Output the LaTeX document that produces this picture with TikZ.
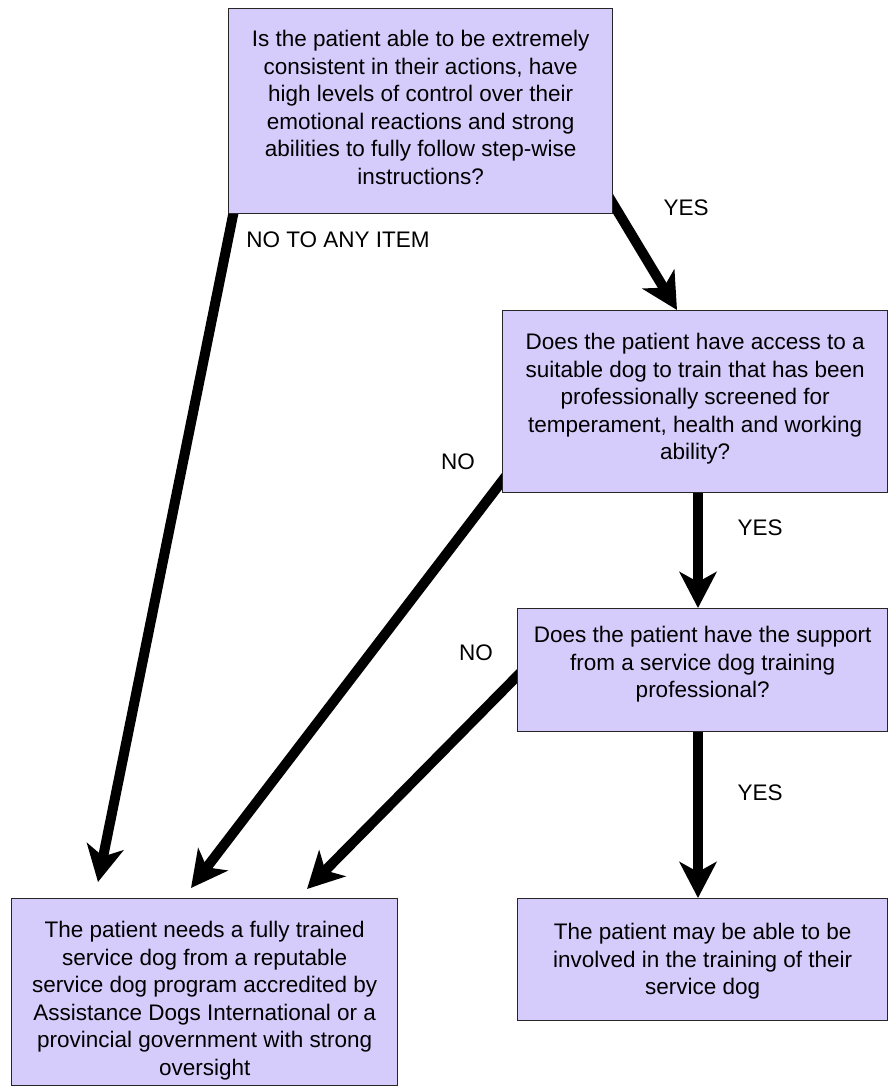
\documentclass[tikz,border=0pt]{standalone}
\usepackage{fontspec}
\setmainfont{Liberation Sans}
\usetikzlibrary{arrows.meta,calc}
\definecolor{boxfill}{RGB}{214,204,252}
\pgfdeclarelayer{back}
\pgfdeclarelayer{bg}
\pgfsetlayers{back,bg,main}
\begin{document}
\begin{tikzpicture}[x=1pt,y=-1pt,
  box/.style={draw=black!85, line width=1.3pt, fill=boxfill, anchor=north west, inner sep=0pt},
  txt/.style={anchor=north, align=center, inner sep=0pt, font=\fontsize{22.5}{27.5}\selectfont},
  lbl/.style={inner sep=0pt, font=\fontsize{22.5}{27.5}\selectfont},
  arr/.style={line width=10pt, -{Stealth[length=36pt,width=37pt,inset=10pt]}}]
\useasboundingbox (0,0) rectangle (891,1091);
\begin{pgfonlayer}{back}
\fill[white] (0,0) rectangle (891,1091);
\end{pgfonlayer}

% boxes
\node[box, minimum width=384pt, minimum height=205pt] (A) at (228,8) {};
\node[box, minimum width=385pt, minimum height=182pt] (B) at (502,310) {};
\node[box, minimum width=370pt, minimum height=123pt] (C) at (517,608) {};
\node[box, minimum width=386pt, minimum height=187pt] (D) at (11,898) {};
\node[box, minimum width=370pt, minimum height=122pt] (E) at (517,898) {};

% texts
\node[txt] (At) at ($(A.north)+(0,22)$) {Is the patient able to be extremely\\consistent in their actions, have\\high levels of control over their\\emotional reactions and strong\\abilities to fully follow step-wise\\instructions?};
\node[txt] (Bt) at ($(B.north)+(0,23)$) {Does the patient have access to a\\suitable dog to train that has been\\professionally screened for\\temperament, health and working\\ability?};
\node[txt] (Ct) at ($(C.north)+(0,18)$) {Does the patient have the support\\from a service dog training\\professional?};
\node[txt] (Dt) at ($(D.north)+(0,23)$) {The patient needs a fully trained\\service dog from a reputable\\service dog program accredited by\\Assistance Dogs International or a\\provincial government with strong\\oversight};
\node[txt] (Et) at ($(E.north)+(0,25)$) {The patient may be able to be\\involved in the training of their\\service dog};

% labels
\node[lbl] (l1) at (338,240) {NO TO ANY ITEM};
\node[lbl] (l2) at (686,208) {YES};
\node[lbl] (l3) at (458,462) {NO};
\node[lbl] (l4) at (760,528) {YES};
\node[lbl] (l5) at (476,653) {NO};
\node[lbl] (l6) at (760,793) {YES};

% connectors
\begin{pgfonlayer}{bg}
\draw[arr] ($(A.south west)+(6,-4)$) -- ($(D.north west)+(87,-16)$);
\draw[arr] ($(A.south east)+(-6,-20)$) -- ($(B.north west)+(175,0)$);
\draw[arr] ($(B.south west)+(6,-20)$) -- ($(D.north west)+(180,-10)$);
\draw[arr] ($(B.south west)+(196,-4)$) -- ($(C.north west)+(181,0)$);
\draw[arr] ($(C.west)+(6,0)$) -- ($(D.north west)+(296,-9)$);
\draw[arr] ($(C.south west)+(181,-4)$) -- ($(E.north west)+(181,0)$);
\end{pgfonlayer}
\end{tikzpicture}
\end{document}
